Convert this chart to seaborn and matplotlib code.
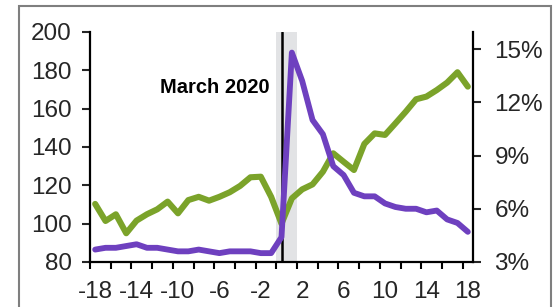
import numpy as np
import pandas as pd
import matplotlib
matplotlib.use("Agg")
import matplotlib.pyplot as plt
import seaborn as sns
from matplotlib.patches import Rectangle

# 月 (March 2020 = 0)
months = list(range(-18, 19))

# 緑: 左軸 (指数)
green_vals = [110.3, 101.4, 104.9, 95.0, 101.6, 104.9, 107.5, 111.5, 105.4, 112.3,
              114.0, 112.0, 114.0, 116.4, 119.7, 124.2, 124.5, 114.0, 100.0,
              113.2, 117.9, 120.5, 127.1, 136.7, 132.3, 128.0, 141.6, 147.1, 146.3,
              152.3, 158.4, 164.9, 166.3, 169.7, 173.6, 179.0, 171.5]

# 紫: 右軸 (%)
purple_vals = [3.7, 3.8, 3.8, 3.9, 4.0, 3.8, 3.8, 3.7, 3.6, 3.6, 3.7, 3.6, 3.5,
               3.6, 3.6, 3.6, 3.5, 3.5, 4.4, 14.8, 13.2, 11.0, 10.2, 8.4, 7.9,
               6.9, 6.7, 6.7, 6.3, 6.1, 6.0, 6.0, 5.8, 5.9, 5.4, 5.2, 4.7]

left_ticks = [80, 100, 120, 140, 160, 180, 200]
right_ticks = [3, 6, 9, 12, 15]
x_label_ticks = [-18, -14, -10, -6, -2, 2, 6, 10, 14, 18]

df = pd.DataFrame({"month": months, "green": green_vals, "purple": purple_vals})

sns.set_style("ticks")
plt.rcParams["font.family"] = ["Liberation Sans", "DejaVu Sans"]

fig = plt.figure(figsize=(5.54, 3.07), dpi=100)
ax = fig.add_axes([90 / 554, 1 - 262 / 307, (473 - 90) / 554, (262 - 32) / 307])
ax2 = ax.twinx()

# 灰色の帯と縦線
ax.axvspan(-0.5, 1.5, color="#e2e3e5", zorder=0, lw=0)
sns.lineplot(data=df, x="month", y="green", ax=ax, color="#7BA32A", lw=4.4, zorder=2)
ax.axvline(0, color="black", lw=1.8, zorder=3)
sns.lineplot(data=df, x="month", y="purple", ax=ax2, color="#6E40BF", lw=4.2)

ax.text(-1.1, 171, "March 2020", ha="right", va="center", fontsize=14.5,
        fontweight="bold", color="black")

ax.set_xlim(-18.5, 18.5)
ax.set_ylim(80, 200)
ax2.set_ylim(3, 15.96)

ax.set_xticks(x_label_ticks)
ax.set_xticklabels([str(v) for v in x_label_ticks])
ax.set_xticks(np.arange(-18.5, 18.4, 2), minor=True)
ax.set_yticks(left_ticks)
ax2.set_yticks(right_ticks)
ax2.set_yticklabels([f"{v}%" for v in right_ticks])

ax.tick_params(axis="x", which="major", length=0, pad=13.5, labelsize=17.5)
ax.tick_params(axis="x", which="minor", direction="out", length=5, width=1.5, color="black")
ax.tick_params(axis="y", direction="out", length=6, width=1.5, pad=7, labelsize=17.5)
ax2.tick_params(axis="y", direction="out", length=5.5, width=1.5, pad=10, labelsize=17.5)

for a in (ax, ax2):
    a.set_xlabel("")
    a.set_ylabel("")
    a.spines["top"].set_visible(False)
    for s in ("left", "right", "bottom"):
        a.spines[s].set_color("black")
        a.spines[s].set_linewidth(1.6)
ax.spines["right"].set_visible(False)
ax2.spines["left"].set_visible(False)
ax2.spines["bottom"].set_visible(False)
ax2.spines["right"].set_visible(True)

# 外枠
fig.patches.append(Rectangle((19 / 554, -0.2), (551 - 19) / 554, 1.2 - 6 / 307,
                             transform=fig.transFigure, fill=False,
                             edgecolor="#7f7f7f", lw=1.5, clip_on=False))

fig.savefig("out.png", dpi=100)
